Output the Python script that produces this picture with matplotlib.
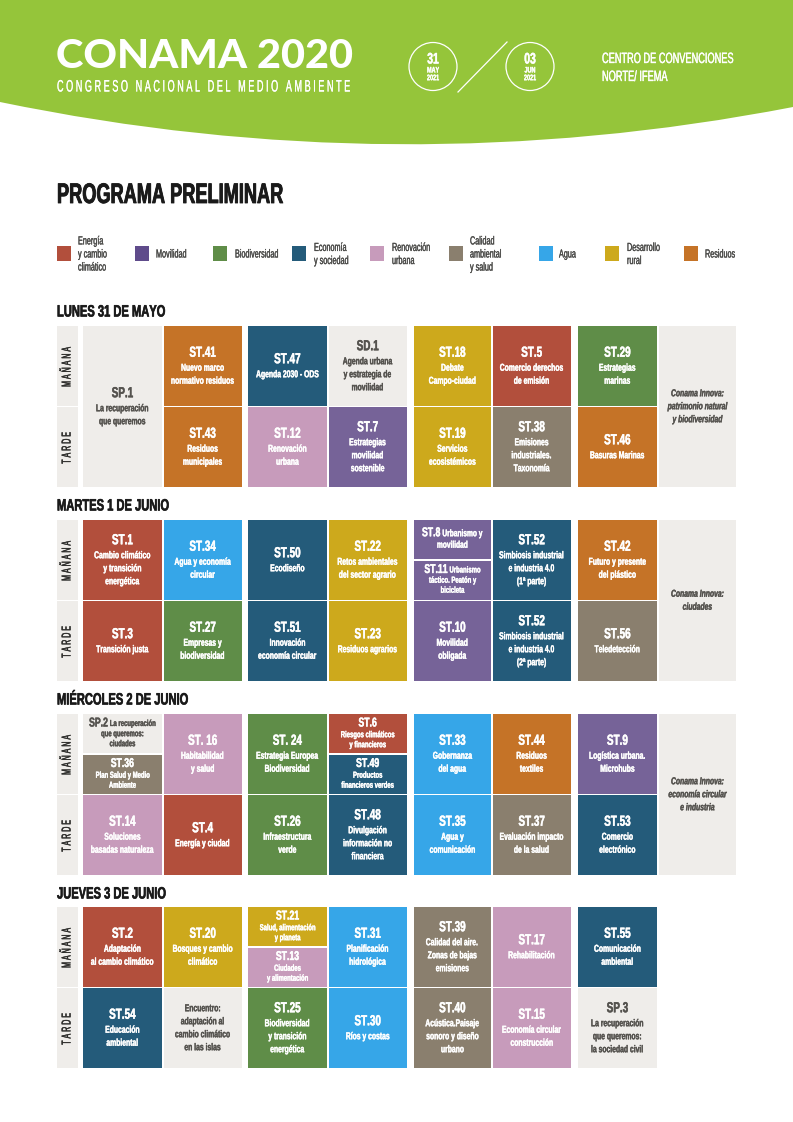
import matplotlib
matplotlib.use("Agg")
import matplotlib.pyplot as plt
from matplotlib import font_manager as fm
from matplotlib import patheffects as pe
from matplotlib.patches import Rectangle, PathPatch, Circle
from matplotlib.path import Path
from fontTools.ttLib import TTFont
from fontTools.ttLib.tables._g_l_y_f import GlyphCoordinates
from fontTools.ttLib.tables import ttProgram


def make_condensed(family, weight, style, xscale, track=0.0, source="Liberation Sans"):
    """Derive a reshaped copy of an installed font, so all the text stays real text."""
    src = fm.findfont(fm.FontProperties(family=source, weight=weight, style=style))
    f = TTFont(src)
    glyf, hmtx, upm = f["glyf"], f["hmtx"], f["head"].unitsPerEm
    for name in f.getGlyphOrder():
        g = glyf[name]
        if g.isComposite():
            for c in g.components:
                c.x = int(round(c.x * xscale))
        elif g.numberOfContours > 0:
            g.coordinates = GlyphCoordinates([(int(round(x * xscale)), y) for x, y in g.coordinates])
        if hasattr(g, "program"):
            g.program = ttProgram.Program()
            g.program.fromBytecode(b"")
        adv, lsb = hmtx[name]
        hmtx[name] = (int(round(adv * xscale + track * upm)), int(round(lsb * xscale)))
    for tag in ["fpgm", "prep", "cvt ", "kern", "GPOS", "GSUB", "hdmx", "VDMX", "LTSH"]:
        if tag in f:
            del f[tag]
    for rec in f["name"].names:
        if rec.nameID in (1, 4, 6, 16):
            rec.string = family
    out = family + ".ttf"
    f.save(out)
    fm.fontManager.addfont(out)
    return family


BOLD = make_condensed("CondBold", "bold", "normal", 0.68)
BOLD_TIGHT = make_condensed("CondBoldTight", "bold", "normal", 0.645)
BOLD_IT = make_condensed("CondBoldItalic", "bold", "italic", 0.68)
REG = make_condensed("CondRegular", "normal", "normal", 0.62)
TRACK = make_condensed("CondTracked", "normal", "normal", 0.55, 0.155)
LOGO = make_condensed("LogoWide", 900, "normal", 1.07, 0.0, source="Lato")
plt.rcParams["font.family"] = [REG, "DejaVu Sans"]

# ------------------------------ data ------------------------------
THEME_NAMES = ["Energía\ny cambio\nclimático", "Movilidad", "Biodiversidad", "Economía\ny sociedad",
               "Renovación\nurbana", "Calidad\nambiental\ny salud", "Agua", "Desarrollo\nrural", "Residuos"]
THEME_KEYS = ["ene", "mov", "bio", "eco", "ren", "cal", "agu", "rur", "res"]
THEME_COLORS = {"ene": "#B24F3C", "mov": "#766398", "bio": "#5F8D48", "eco": "#245B7A", "ren": "#C79BBB",
                "cal": "#8A7F6E", "agu": "#36A6E8", "rur": "#CDA91C", "res": "#C57327", "lig": "#EFEDEA"}
LEGEND_MOV = "#5F4B8B"

DAY_TITLES = ["LUNES 31 DE MAYO", "MARTES 1 DE JUNIO", "MIÉRCOLES 2 DE JUNIO", "JUEVES 3 DE JUNIO"]
ROW_LABELS = ["MAÑANA", "TARDE"]

# slots: M morning, T afternoon, B both, U upper half of morning, L lower half of morning
D1_COLS = [0, 1, 1, 2, 2, 3, 3, 4, 4, 5, 5, 6, 6, 7]
D1_SLOTS = ["B", "M", "T", "M", "T", "M", "T", "M", "T", "M", "T", "M", "T", "B"]
D1_CODES = ["SP.1", "ST.41", "ST.43", "ST.47", "ST.12", "SD.1", "ST.7", "ST.18", "ST.19", "ST.5", "ST.38",
            "ST.29", "ST.46", ""]
D1_TEXTS = ["La recuperación\nque queremos", "Nuevo marco\nnormativo residuos", "Residuos\nmunicipales",
            "Agenda 2030 - ODS", "Renovación\nurbana", "Agenda urbana\ny estrategia de\nmovilidad",
            "Estrategias\nmovilidad\nsostenible", "Debate\nCampo-ciudad", "Servicios\necosistémicos",
            "Comercio derechos\nde emisión", "Emisiones\nindustriales.\nTaxonomía", "Estrategias\nmarinas",
            "Basuras Marinas", "Conama Innova:\npatrimonio natural\ny biodiversidad"]
D1_THEMES = ["lig", "res", "res", "eco", "ren", "lig", "mov", "rur", "rur", "ene", "cal", "bio", "res", "lig"]

D2_COLS = [0, 0, 1, 1, 2, 2, 3, 3, 4, 4, 4, 5, 5, 6, 6, 7]
D2_SLOTS = ["M", "T", "M", "T", "M", "T", "M", "T", "U", "L", "T", "M", "T", "M", "T", "B"]
D2_CODES = ["ST.1", "ST.3", "ST.34", "ST.27", "ST.50", "ST.51", "ST.22", "ST.23", "ST.8", "ST.11", "ST.10",
            "ST.52", "ST.52", "ST.42", "ST.56", ""]
D2_TEXTS = ["Cambio climático\ny transición\nenergética", "Transición justa", "Agua y economía\ncircular",
            "Empresas y\nbiodiversidad", "Ecodiseño", "Innovación\neconomía circular",
            "Retos ambientales\ndel sector agrario", "Residuos agrarios", "Urbanismo y\nmovilidad",
            "Urbanismo\ntáctico. Peatón y\nbicicleta", "Movilidad\nobligada",
            "Simbiosis industrial\ne industria 4.0\n(1ª parte)", "Simbiosis industrial\ne industria 4.0\n(2ª parte)",
            "Futuro y presente\ndel plástico", "Teledetección", "Conama Innova:\nciudades"]
D2_THEMES = ["ene", "ene", "agu", "bio", "eco", "eco", "rur", "rur", "mov", "mov", "mov", "eco", "eco", "res",
             "cal", "lig"]

D3_COLS = [0, 0, 0, 1, 1, 2, 2, 3, 3, 3, 4, 4, 5, 5, 6, 6, 7]
D3_SLOTS = ["U", "L", "T", "M", "T", "M", "T", "U", "L", "T", "M", "T", "M", "T", "M", "T", "B"]
D3_CODES = ["SP.2", "ST.36", "ST.14", "ST. 16", "ST.4", "ST. 24", "ST.26", "ST.6", "ST.49", "ST.48", "ST.33",
            "ST.35", "ST.44", "ST.37", "ST.9", "ST.53", ""]
D3_TEXTS = ["La recuperación\nque queremos:\nciudades", "Plan Salud y Medio\nAmbiente", "Soluciones\nbasadas naturaleza",
            "Habitabilidad\ny salud", "Energía y ciudad", "Estrategia Europea\nBiodiversidad",
            "Infraestructura\nverde", "Riesgos climáticos\ny financieros", "Productos\nfinancieros verdes",
            "Divulgación\ninformación no\nfinanciera", "Gobernanza\ndel agua", "Agua y\ncomunicación",
            "Residuos\ntextiles", "Evaluación impacto\nde la salud", "Logística urbana.\nMicrohubs",
            "Comercio\nelectrónico", "Conama Innova:\neconomía circular\ne industria"]
D3_THEMES = ["lig", "cal", "ren", "ren", "ene", "bio", "bio", "ene", "eco", "eco", "agu", "agu", "res", "cal",
             "mov", "eco", "lig"]

D4_COLS = [0, 0, 1, 1, 2, 2, 2, 3, 3, 4, 4, 5, 5, 6, 6]
D4_SLOTS = ["M", "T", "M", "T", "U", "L", "T", "M", "T", "M", "T", "M", "T", "M", "T"]
D4_CODES = ["ST.2", "ST.54", "ST.20", "", "ST.21", "ST.13", "ST.25", "ST.31", "ST.30", "ST.39", "ST.40", "ST.17",
            "ST.15", "ST.55", "SP.3"]
D4_TEXTS = ["Adaptación\nal cambio climático", "Educación\nambiental", "Bosques y cambio\nclimático",
            "Encuentro:\nadaptación al\ncambio climático\nen las islas", "Salud, alimentación\ny planeta",
            "Ciudades\ny alimentación", "Biodiversidad\ny transición\nenergética", "Planificación\nhidrológica",
            "Ríos y costas", "Calidad del aire.\nZonas de bajas\nemisiones", "Acústica.Paisaje\nsonoro y diseño\nurbano",
            "Rehabilitación", "Economía circular\nconstrucción", "Comunicación\nambiental",
            "La recuperación\nque queremos:\nla sociedad civil"]
D4_THEMES = ["ene", "eco", "rur", "lig", "rur", "ren", "bio", "agu", "agu", "cal", "cal", "ren", "ren", "eco", "lig"]

DAYS = [(D1_COLS, D1_SLOTS, D1_CODES, D1_TEXTS, D1_THEMES), (D2_COLS, D2_SLOTS, D2_CODES, D2_TEXTS, D2_THEMES),
        (D3_COLS, D3_SLOTS, D3_CODES, D3_TEXTS, D3_THEMES), (D4_COLS, D4_SLOTS, D4_CODES, D4_TEXTS, D4_THEMES)]
INLINE_CODES = {"ST.8", "ST.11", "SP.2"}

# ------------------------------ layout (pixels) ------------------------------
COL_X0 = [83, 163.5, 248, 328.5, 414, 492.5, 578, 658.5]
COL_X1 = [162, 242, 327, 407, 491, 571, 657, 736]
DAY_TOP = [326, 520, 714, 907]
DAY_TITLE_Y = [312, 506, 700, 894]
ROW_H = 79.5
ROW_GAP = 1.5
LEGEND_SWATCH_X = [57, 135, 213, 292, 370, 449, 539, 605, 684]
LEGEND_TEXT_X = [78, 156, 235, 314, 392, 470, 559, 627, 705]
GREEN = "#95C53A"
LIGHT_TEXT = "#55534F"

fig = plt.figure(figsize=(7.93, 11.22), dpi=100, facecolor="white")
ax = fig.add_axes([0, 0, 1, 1])
ax.set_xlim(0, 793)
ax.set_ylim(1122, 0)
ax.axis("off")


def T(x, y, s, color, stroke=0.3, **kw):
    """Text slightly emboldened with a thin outline of its own colour."""
    kw.setdefault("va", "center")
    kw.setdefault("ha", "left")
    t = ax.text(x, y, s, color=color, **kw)
    if stroke:
        t.set_path_effects([pe.withStroke(linewidth=stroke, foreground=color)])
    return t


# header
hdr = Path([(0, 0), (793, 0), (793, 107), (396, 184), (0, 102), (0, 0)],
           [Path.MOVETO, Path.LINETO, Path.LINETO, Path.CURVE3, Path.CURVE3, Path.CLOSEPOLY])
ax.add_patch(PathPatch(hdr, fc=GREEN, ec="none"))
T(56, 56.5, "CONAMA 2020", "white", stroke=0, fontsize=28, family=LOGO)
T(57, 87, "CONGRESO NACIONAL DEL MEDIO AMBIENTE", "white", stroke=0.15, fontsize=11.9, family=TRACK)
for cx, day, mon in [(433, "31", "MAY"), (530, "03", "JUN")]:
    ax.add_patch(Circle((cx, 66.5), 24, fc="none", ec="white", lw=0.9))
    T(cx, 59.5, day, "white", fontsize=11, family=BOLD, ha="center")
    T(cx, 71, mon, "white", stroke=0.2, fontsize=5.8, family=BOLD, ha="center")
    T(cx, 78.7, "2021", "white", stroke=0.2, fontsize=5.8, family=BOLD, ha="center")
ax.plot([458, 507], [92, 42], color="white", lw=0.9)
T(602, 59, "CENTRO DE CONVENCIONES", "white", stroke=0.25, fontsize=10.7, family=REG)
T(602, 77, "NORTE/ IFEMA", "white", stroke=0.25, fontsize=10.7, family=REG)

T(57, 196, "PROGRAMA PRELIMINAR", "#1A1A1A", stroke=0.6, fontsize=20.3, family=BOLD_TIGHT)

# legend
for key, name, sx, tx in zip(THEME_KEYS, THEME_NAMES, LEGEND_SWATCH_X, LEGEND_TEXT_X):
    col = LEGEND_MOV if key == "mov" else THEME_COLORS[key]
    ax.add_patch(Rectangle((sx, 246), 14, 15, fc=col, ec="none"))
    T(tx, 254.5, name, "#4A4A48", stroke=0.2, fontsize=8.4, family=REG, linespacing=1.12)

renderer = fig.canvas.get_renderer()


def slot_bounds(top, slot):
    morning = (top, top + ROW_H)
    afternoon = (top + ROW_H + ROW_GAP, top + 2 * ROW_H + ROW_GAP)
    mid = top + (ROW_H - ROW_GAP) / 2
    return {"M": morning, "T": afternoon, "B": (top, afternoon[1]),
            "U": (top, mid), "L": (mid + ROW_GAP, morning[1])}[slot]


def draw_cell_text(cx, y0, y1, code, text, color, slot, italic):
    lines = text.split("\n")
    half = slot in "UL"
    tfs, lfs = (9.2, 6.3) if half else (10.5, 7.2)
    if code == "ST.8":
        lfs = 7.0
    th, lh = (12.5, 10) if half else (17, 13)
    if code == "ST.8":
        lh = 12.5
    font = BOLD_IT if italic else BOLD
    if code in INLINE_CODES:
        h = th + lh * (len(lines) - 1)
        y = (y0 + y1 - h) / 2 + th / 2
        a = T(0, y, code, color, fontsize=tfs, family=BOLD)
        b = T(0, y, lines[0], color, stroke=0.25, fontsize=lfs, family=BOLD)
        wa = a.get_window_extent(renderer).width
        wb = b.get_window_extent(renderer).width
        x = cx - (wa + 2 + wb) / 2
        a.set_x(x)
        b.set_x(x + wa + 2)
        y += th / 2 + lh / 2 - 1
        rest = lines[1:]
    else:
        h = (th if code else 0) + lh * len(lines)
        y = (y0 + y1 - h) / 2
        if code:
            T(cx, y + th / 2, code, color, fontsize=tfs, family=BOLD, ha="center")
            y += th
        y += lh / 2
        rest = lines
    for line in rest:
        T(cx, y, line, color, stroke=0.25, fontsize=lfs, family=font, ha="center")
        y += lh


for title, title_y, top, (cols, slots, codes, texts, themes) in zip(DAY_TITLES, DAY_TITLE_Y, DAY_TOP, DAYS):
    T(57, title_y, title, "#1A1A1A", stroke=0.4, fontsize=11.8, family=BOLD)
    for lab, slot in zip(ROW_LABELS, "MT"):
        y0, y1 = slot_bounds(top, slot)
        ax.add_patch(Rectangle((57, y0), 21, y1 - y0, fc=THEME_COLORS["lig"], ec="none"))
        T(67.5, (y0 + y1) / 2, lab, "#2E2E2C", stroke=0.3, fontsize=9.2, family=TRACK, rotation=90, ha="center")
    for col, slot, code, text, theme in zip(cols, slots, codes, texts, themes):
        y0, y1 = slot_bounds(top, slot)
        x0, x1 = COL_X0[col], COL_X1[col]
        ax.add_patch(Rectangle((x0, y0), x1 - x0, y1 - y0, fc=THEME_COLORS[theme], ec="none"))
        color = LIGHT_TEXT if theme == "lig" else "white"
        draw_cell_text((x0 + x1) / 2, y0, y1, code, text, color, slot, text.startswith("Conama"))

fig.savefig("out.png", dpi=100, facecolor="white")
